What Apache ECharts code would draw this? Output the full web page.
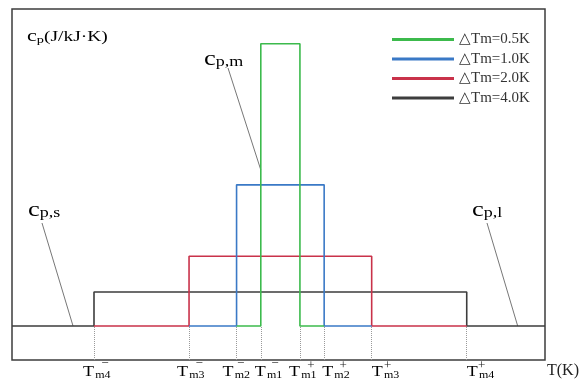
<!DOCTYPE html>
<html><head><meta charset="utf-8">
<script src="https://cdn.jsdelivr.net/npm/echarts@6/dist/echarts.min.js"></script>
<style>html,body{margin:0;padding:0;background:#fff}#chart{width:582px;height:388px}</style>
</head><body><div id="chart"></div>
<script>
// Step profiles of effective heat capacity over the phase-change interval
const seriesNames = ['△Tm=0.5K', '△Tm=1.0K', '△Tm=2.0K', '△Tm=4.0K'];
const halfWidths = [0.21, 0.47, 0.98, 2.0];   // K, distance of Tm± from Tm
const peakCp = [9.3, 5.15, 3.05, 2.0];        // cp,m for each interval
const baseCp = 1.0;                           // cp,s = cp,l
const colors = ['#3cba4c', '#3a79c6', '#c9324a', '#3d3d3d'];

// Tick marks Tm1..Tm4 on both sides
const tickPos = [-2.0, -0.98, -0.47, -0.21, 0.21, 0.47, 0.98, 2.0];
const tickSub = ['m4', 'm3', 'm2', 'm1', 'm1', 'm2', 'm3', 'm4'];
const tickSign = ['−', '−', '−', '−', '+', '+', '+', '+'];

const T_MIN = -2.88, T_MAX = 2.84, CP_MAX = 10.32;
const SERIF = '"Liberation Serif", "Times New Roman", serif';

// label placement (px) relative to each tick, and sign placement relative to the label
const labelShift = [-11, -12, -14, -6, -11, -2, 0, 0];
const signShift = [22, 22, 18, 20, 22, 21, 16, 15];

function stepData(i) {
  const hw = halfWidths[i];
  const outerL = i < halfWidths.length - 1 ? -halfWidths[i + 1] : T_MIN;
  const outerR = i < halfWidths.length - 1 ? halfWidths[i + 1] : T_MAX;
  return [[outerL, baseCp], [-hw, baseCp], [-hw, peakCp[i]], [hw, peakCp[i]], [hw, baseCp], [outerR, baseCp]];
}

const series = [];
for (let i = seriesNames.length - 1; i >= 0; i--) {
  series.push({
    name: seriesNames[i], type: 'line', data: stepData(i),
    showSymbol: false, symbol: 'none', silent: true,
    lineStyle: { color: colors[i], width: 1.6 },
    itemStyle: { color: colors[i] }
  });
}

const chart = echarts.init(document.getElementById('chart'), null, { renderer: 'canvas' });
chart.setOption({
  animation: false,
  backgroundColor: '#fff',
  grid: { left: 12, right: 37, top: 9, bottom: 28, show: true, borderColor: '#3d3d3d', borderWidth: 1.5 },
  xAxis: {
    type: 'value', min: T_MIN, max: T_MAX, position: 'bottom',
    axisLine: { show: false }, splitLine: { show: false }, axisLabel: { show: false },
    axisTick: { show: true, inside: true, length: 34, customValues: tickPos,
      lineStyle: { color: '#9a9a9a', type: 'dotted', width: 1 } }
  },
  yAxis: {
    type: 'value', min: 0, max: CP_MAX,
    axisLine: { show: false }, axisTick: { show: false }, axisLabel: { show: false }, splitLine: { show: false }
  },
  legend: {
    data: seriesNames, orient: 'vertical', left: 387, top: 27,
    icon: 'rect', itemWidth: 62, itemHeight: 3, itemGap: 4.5,
    textStyle: { fontFamily: SERIF, fontSize: 15, color: '#333', lineHeight: 15 }
  },
  series: series
});

// Annotations: axis titles, tick labels and cp labels with leader lines to the curves
function px(t, cp) { return chart.convertToPixel({ xAxisIndex: 0, yAxisIndex: 0 }, [t, cp]); }
const graphics = [];

const cpRich = {
  c: { fontFamily: SERIF, fontSize: 22, color: '#222' },
  s: { fontFamily: SERIF, fontSize: 15, color: '#222', padding: [7, 0, 0, 0] }
};
const leaders = [
  { text: '{c|c}{s|p,m}', x: 204, y: 59, from: [228, 68], to: px(-halfWidths[0], 5.59) },
  { text: '{c|c}{s|p,s}', x: 28, y: 210, from: [42, 223], to: px(-2.225, baseCp) },
  { text: '{c|c}{s|p,l}', x: 472, y: 210, from: [487, 223], to: px(2.547, baseCp) }
];
leaders.forEach(function (a) {
  graphics.push({ type: 'text', x: a.x, y: a.y, scaleX: 1.2, silent: true,
    style: { text: a.text, rich: cpRich, verticalAlign: 'middle' } });
  graphics.push({ type: 'line', silent: true,
    shape: { x1: a.from[0], y1: a.from[1], x2: a.to[0], y2: a.to[1] },
    style: { stroke: '#777', lineWidth: 1 } });
});

graphics.push({ type: 'text', x: 27, y: 37, scaleX: 1.3, silent: true,
  style: { text: '{c|c}{s|p}{u|(J/kJ·K)}', verticalAlign: 'middle', rich: {
    c: { fontFamily: SERIF, fontSize: 17, color: '#222' },
    s: { fontFamily: SERIF, fontSize: 11, color: '#222', padding: [6, 0, 0, 0] },
    u: { fontFamily: SERIF, fontSize: 15, color: '#222' } } } });

graphics.push({ type: 'text', x: 547, y: 371, silent: true,
  style: { text: 'T(K)', fontFamily: SERIF, fontSize: 16, fill: '#222', verticalAlign: 'middle' } });

tickPos.forEach(function (t, k) {
  const x0 = px(t, 0)[0] + labelShift[k];
  graphics.push({ type: 'text', x: x0, y: 372, scaleX: 1.2, silent: true,
    style: { text: '{t|T}{s|' + tickSub[k] + '}', verticalAlign: 'middle', rich: {
      t: { fontFamily: SERIF, fontSize: 15, color: '#222' },
      s: { fontFamily: SERIF, fontSize: 10, color: '#222', padding: [6, 0, 0, 1] } } } });
  graphics.push({ type: 'text', x: x0 + signShift[k], y: tickSign[k] === '+' ? 366 : 364, silent: true,
    style: { text: tickSign[k], fontFamily: SERIF, fontSize: 13, fill: '#222',
      align: 'center', verticalAlign: 'middle' } });
});

chart.setOption({ graphic: graphics });
</script>
</body></html>
